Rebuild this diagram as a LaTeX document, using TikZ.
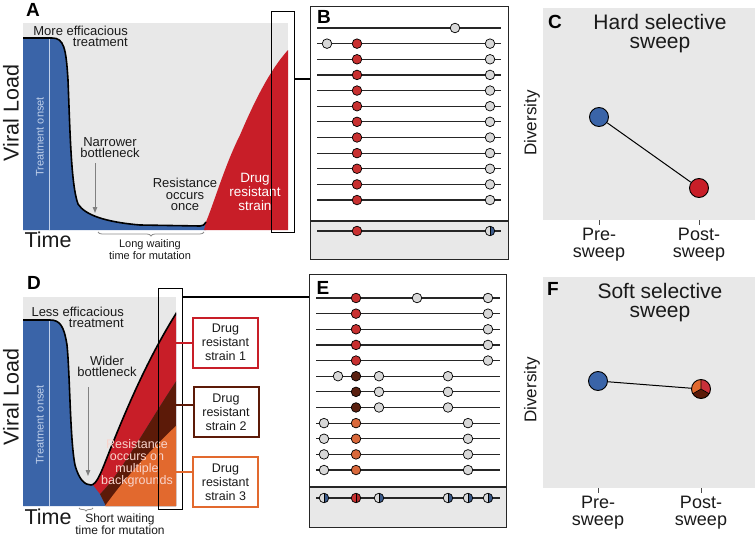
\documentclass[tikz,border=0pt]{standalone}
\usepackage{fontspec}
\setmainfont{Liberation Sans}
\usetikzlibrary{decorations.pathreplacing,arrows.meta}
\definecolor{bgg}{HTML}{E8E8E8}
\definecolor{blueA}{HTML}{3A64A8}
\definecolor{redA}{HTML}{C81E28}
\definecolor{brownA}{HTML}{5C1A08}
\definecolor{orangeA}{HTML}{E2692E}
\definecolor{dotgray}{HTML}{D8D8D8}
\definecolor{dotred}{HTML}{C83030}
\definecolor{dotredb}{HTML}{B02828}
\definecolor{dotbrown}{HTML}{5A2010}
\definecolor{dotorange}{HTML}{D9683A}
\definecolor{dotblue}{HTML}{3B5A8A}
\definecolor{txtc}{HTML}{1A1A1A}
\definecolor{onset}{HTML}{C0D0EA}
\definecolor{pinkt}{HTML}{F8D4CC}
\definecolor{piered}{HTML}{C8303A}
\newcommand\hapdot[3]{\draw[dotline, fill=#3] (#1,#2) circle[radius=4.8];}
\newcommand\haphalf[4]{%
  \begin{scope}
    \clip (#1,#2) circle[radius=4.8];
    \fill[#3] (#1-5,#2-5) rectangle (#1,#2+5);
    \fill[#4] (#1,#2-5) rectangle (#1+5,#2+5);
    \draw[line width=0.6] (#1,#2-5) -- (#1,#2+5);
  \end{scope}
  \draw[dotline] (#1,#2) circle[radius=4.8];}
\newcommand\curveApath{(23,38) -- (52,38) .. controls (64,38) and (66,48) .. (68,80) .. controls (70,130) and (71,185) .. (78,204) .. controls (85,215) and (105,222) .. (140,225) -- (200,226) .. controls (203,226) and (204,225) .. (206,222)}
\newcommand\curveDpath{(23,320) -- (50,320) .. controls (60,320) and (64,326) .. (67,345) .. controls (70,375) and (70,440) .. (75,465) .. controls (79,480) and (85,485) .. (91,485) .. controls (97,485) and (102,470) .. (110,450) .. controls (130,400) and (150,355) .. (177,312)}
\begin{document}
\begin{tikzpicture}[x=1pt,y=-1pt,
  panlbl/.style={font=\fontsize{19}{19}\selectfont\bfseries, inner sep=0, text=black},
  midtxt/.style={font=\fontsize{13}{11.5}\selectfont, align=center, inner sep=0, text=txtc},
  smalltxt/.style={font=\fontsize{11}{11.5}\selectfont, align=center, inner sep=0, text=txtc},
  bigtxt/.style={font=\fontsize{21.5}{21.5}\selectfont, inner sep=0, text=txtc},
  titletxt/.style={font=\fontsize{21}{19}\selectfont, align=center, inner sep=0, text=txtc},
  axtxt/.style={font=\fontsize{18}{17}\selectfont, align=center, inner sep=0, text=txtc},
  divtxt/.style={font=\fontsize{17}{17}\selectfont, inner sep=0, rotate=90, text=txtc},
  onsettxt/.style={font=\fontsize{11}{11}\selectfont, inner sep=0, rotate=90, text=onset},
  hap/.style={line width=1.2, black!85},
  dotline/.style={line width=0.7, black},
  curveln/.style={line width=1.6, black},
  winbox/.style={draw=black, line width=1.3, inner sep=0, anchor=north west},
  hapbox/.style={draw=black!85, line width=1.3, inner sep=0, anchor=north west},
  legbox/.style={line width=2, fill=white, inner sep=0, minimum width=65, minimum height=50, align=center, font=\fontsize{12.5}{14}\selectfont, text=txtc},
  conn/.style={line width=1.2, black},
  divc/.style={circle, draw=black, line width=0.9, minimum size=19, inner sep=0},
  tick/.style={line width=1, black!70},
  grarrow/.style={draw=black!50, line width=1, -{Triangle[width=4.5pt,length=6pt]}},
  brc/.style={draw=black!45, line width=0.8, decorate, decoration={brace, amplitude=4pt}}
]
\useasboundingbox (0,0) rectangle (756,538);
\fill[white] (0,0) rectangle (756,538);

%%%%%%%%%%%%%% Panel A
\node[panlbl] (lblA) at (33,10) {A};
\fill[bgg] (23,23) rectangle (288,230);
\fill[blueA] (23,230) -- \curveApath -- (206,230) -- cycle;
\fill[redA] (204,230) -- (206,222) .. controls (215,200) and (225,165) .. (240,135) .. controls (255,100) and (270,70) .. (288,50) -- (288,230) -- cycle;
\draw[onset, line width=0.8] (49,38) -- (49,230);
\draw[curveln] \curveApath;
\node[onsettxt] (onA) at (40,137) {Treatment onset};
\node[bigtxt, rotate=90] (vlA) at (11,113) {Viral Load};
\node[bigtxt] (timeA) at (48,240) {Time};
\node[midtxt, align=right, anchor=east] (effA) at (128,36.5) {More efficacious\\treatment};
\node[midtxt] (botA) at (110,147.5) {Narrower\\bottleneck};
\coordinate (arA1) at (95,163);
\coordinate (arA2) at (95,213);
\draw[grarrow] (arA1) -- (arA2);
\node[midtxt] (resA) at (185,194.5) {Resistance\\occurs\\once};
\node[midtxt, text=white, font=\fontsize{13.5}{14}\selectfont] (drugA) at (255,192) {Drug\\resistant\\strain};
\coordinate (brA1) at (204,232);
\coordinate (brA2) at (98,232);
\draw[brc] (brA1) -- (brA2);
\node[smalltxt] (waitA) at (150,249.5) {Long waiting\\time for mutation};
\node[winbox, minimum width=23, minimum height=221] (winA) at (271,11) {};

%%%%%%%%%%%%%% Panel B
\fill[bgg] (310,221) rectangle (508,259);
\node[hapbox, minimum width=198, minimum height=253] (boxB) at (310,6) {};
\draw[black!85, line width=1.3] (310,221) -- (508,221);
\coordinate (cA) at (294,79);
\draw[conn] (cA) -- (cA -| boxB.west);
\node[panlbl] (lblB) at (324,17) {B};
\foreach \i in {0,...,11} {\draw[hap] (317,28+15.64*\i) -- (501,28+15.64*\i);}
\draw[hap] (317,231) -- (501,231);
\hapdot{455}{28}{dotgray}
\hapdot{327}{43.64}{dotgray}
\foreach \i in {1,...,11} {\hapdot{357}{28+15.64*\i}{dotred}\hapdot{490}{28+15.64*\i}{dotgray}}
\hapdot{357}{231}{dotred}
\haphalf{490}{231}{dotgray}{dotblue}

%%%%%%%%%%%%%% Panel C
\fill[bgg] (543,8) rectangle (755,220);
\node[panlbl] (lblC) at (555,22) {C};
\node[titletxt] (titC) at (660,34) {Hard selective\\sweep};
\node[divtxt] (divC) at (532,123) {Diversity};
\node[divc, fill=blueA] (preC) at (599,117) {};
\node[divc, fill=redA] (postC) at (699,188) {};
\draw[line width=1, black] (preC) -- (postC);
\draw[tick] (599,220) -- (599,225);
\draw[tick] (699,220) -- (699,225);
\node[axtxt] (preCt) at (599,245) {Pre-\\sweep};
\node[axtxt] (postCt) at (699,245) {Post-\\sweep};

%%%%%%%%%%%%%% Panel D
\node[panlbl] (lblD) at (34,283) {D};
\fill[bgg] (23,297) rectangle (176,506);
\begin{scope}
  \clip (23,297) rectangle (176,506);
  \fill[blueA] (23,506) -- \curveDpath -- (177,506) -- cycle;
  \fill[redA] (93,485) .. controls (98,483) and (102,470) .. (110,450) .. controls (130,400) and (150,355) .. (177,312) -- (177,380) .. controls (150,420) and (120,475) .. (100,494) -- cycle;
  \fill[brownA] (100,494) .. controls (120,475) and (150,420) .. (177,380) -- (177,506) -- (106,506) -- cycle;
  \fill[orangeA] (105,506) .. controls (120,485) and (145,455) .. (177,425) -- (177,506) -- cycle;
  \draw[onset, line width=0.8] (49,320) -- (49,506);
  \draw[curveln] \curveDpath;
\end{scope}
\node[onsettxt] (onD) at (40,425) {Treatment onset};
\node[bigtxt, rotate=90] (vlD) at (11,397) {Viral Load};
\node[bigtxt] (timeD) at (48,517) {Time};
\node[midtxt, align=right, anchor=east] (effD) at (124,317.5) {Less efficacious\\treatment};
\node[midtxt] (botD) at (107,366.5) {Wider\\bottleneck};
\coordinate (arD1) at (88,387);
\coordinate (arD2) at (88,476);
\draw[grarrow] (arD1) -- (arD2);
\node[midtxt, text=pinkt, font=\fontsize{12.5}{12}\selectfont] (resD) at (137,463) {Resistance\\occurs on\\multiple\\backgrounds};
\coordinate (brD1) at (93,508);
\coordinate (brD2) at (79,508);
\draw[brc, decoration={brace, amplitude=3pt}] (brD1) -- (brD2);
\node[midtxt, font=\fontsize{12}{11}\selectfont] (waitD) at (120,524) {Short waiting\\time for mutation};
\node[winbox, minimum width=24, minimum height=221] (winD) at (158,288) {};
\node[legbox, draw=redA] (leg1) at (225.5,342.5) {Drug\\resistant\\strain 1};
\node[legbox, draw=brownA] (leg2) at (226,412) {Drug\\resistant\\strain 2};
\node[legbox, draw=orangeA] (leg3) at (225.5,482) {Drug\\resistant\\strain 3};
\coordinate (l1) at (176,343);
\coordinate (l2) at (176,405);
\coordinate (l3) at (176,472);
\draw[redA, line width=2] (l1) -- (l1 -| leg1.west);
\draw[brownA, line width=2] (l2) -- (l2 -| leg2.west);
\draw[orangeA, line width=2] (l3) -- (l3 -| leg3.west);

%%%%%%%%%%%%%% Panel E
\fill[bgg] (309,487) rectangle (506,527);
\node[hapbox, minimum width=197, minimum height=253] (boxE) at (309,274) {};
\draw[black!85, line width=1.3] (309,487) -- (506,487);
\coordinate (cD) at (182,297);
\draw[conn] (cD) -- (cD -| boxE.west);
\node[panlbl] (lblE) at (323,288) {E};
\foreach \i in {0,...,11} {\draw[hap] (316,298+15.64*\i) -- (500,298+15.64*\i);}
\draw[hap] (316,498) -- (500,498);
\hapdot{417}{298}{dotgray}
\foreach \i in {0,...,4} {\hapdot{356}{298+15.64*\i}{dotred}\hapdot{488}{298+15.64*\i}{dotgray}}
\hapdot{338}{376.2}{dotgray}
\foreach \i in {5,6,7} {\hapdot{356}{298+15.64*\i}{dotbrown}\hapdot{379}{298+15.64*\i}{dotgray}\hapdot{448}{298+15.64*\i}{dotgray}}
\foreach \i in {8,...,11} {\hapdot{324}{298+15.64*\i}{dotgray}\hapdot{356}{298+15.64*\i}{dotorange}\hapdot{468}{298+15.64*\i}{dotgray}}
\haphalf{324}{498}{dotgray}{dotblue}
\haphalf{356}{498}{dotred}{dotredb}
\haphalf{379}{498}{dotgray}{dotblue}
\haphalf{448}{498}{dotgray}{dotblue}
\haphalf{468}{498}{dotgray}{dotblue}
\haphalf{488}{498}{dotgray}{dotblue}

%%%%%%%%%%%%%% Panel F
\fill[bgg] (543,277) rectangle (755,488);
\node[panlbl] (lblF) at (553,289) {F};
\node[titletxt] (titF) at (660,303) {Soft selective\\sweep};
\node[divtxt] (divF) at (532,390) {Diversity};
\node[divc, fill=blueA] (preF) at (598,381) {};
\begin{scope}
  \clip (701,389) circle[radius=9.5];
  \fill[orangeA] (690,378) rectangle (712,400);
  \fill[piered] (701,389) -- (701,370) -- (740,370) -- (740,411.5) -- cycle;
  \fill[brownA] (701,389) -- (740,411.5) -- (740,420) -- (662,420) -- (662,411.5) -- cycle;
  \draw[line width=0.6] (701,389) -- (701,370) (701,389) -- (740,411.5) (701,389) -- (662,411.5);
\end{scope}
\node[divc] (postF) at (701,389) {};
\draw[line width=1, black] (preF) -- (postF);
\draw[tick] (598,488) -- (598,493);
\draw[tick] (701,488) -- (701,493);
\node[axtxt] (preFt) at (598,513) {Pre-\\sweep};
\node[axtxt] (postFt) at (701,513) {Post-\\sweep};
\end{tikzpicture}
\end{document}
